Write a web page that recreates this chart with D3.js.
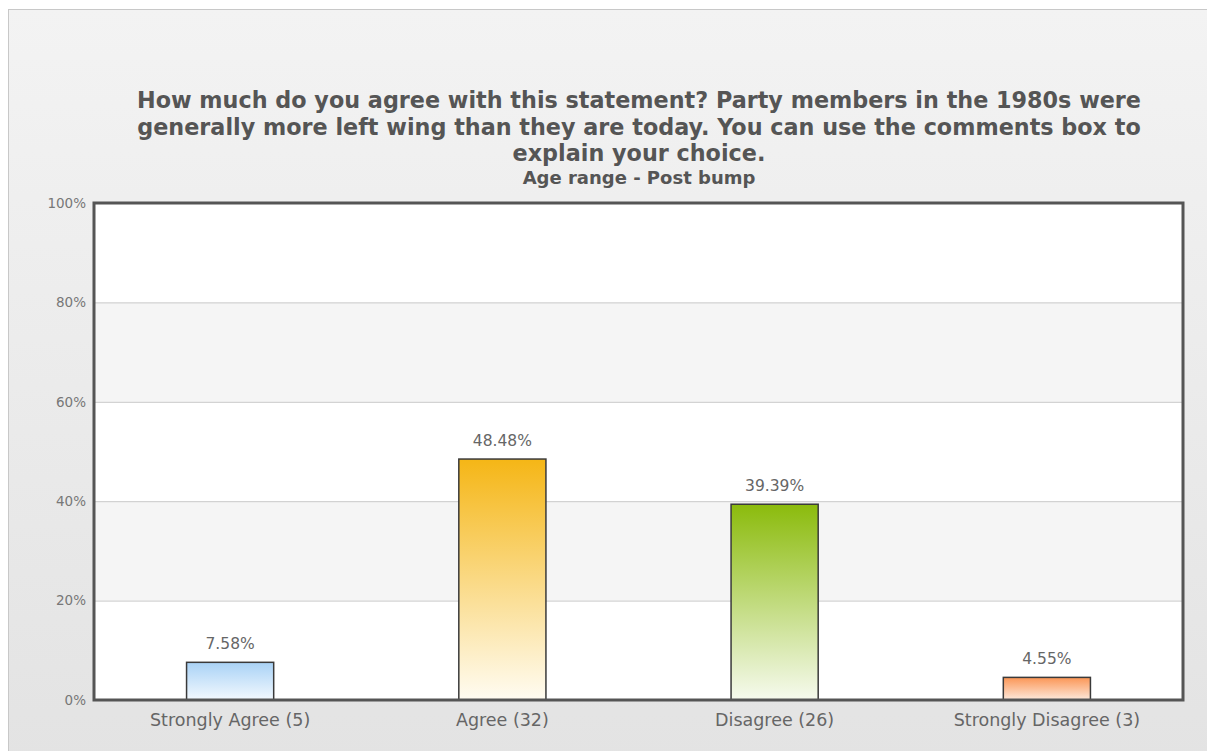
<!DOCTYPE html>
<html>
<head>
<meta charset="utf-8">
<script src="https://cdn.jsdelivr.net/npm/d3@7"></script>
<style>
  body { margin: 0; background: #fff; }
  svg { display: block; }
</style>
</head>
<body>
<svg id="chart" width="1207" height="751"></svg>
<script>
// data
var categories = ["Strongly Agree (5)", "Agree (32)", "Disagree (26)", "Strongly Disagree (3)"];
var percents = [7.58, 48.48, 39.39, 4.55];
var yTicks = [0, 20, 40, 60, 80, 100];
var titleLines = [
  "How much do you agree with this statement? Party members in the 1980s were",
  "generally more left wing than they are today. You can use the comments box to",
  "explain your choice."
];
var subtitle = "Age range - Post bump";
var barTop = ["#a9d2f6", "#f5b616", "#8bbb0c", "#fb9656"];
var barBottom = ["#f3f9fe", "#fffcf2", "#f6faee", "#fde9dc"];

var svg = d3.select("#chart");
var W = 1207, H = 751;
var plotLeft = 94, plotTop = 203, plotRight = 1183, plotBottom = 700;
var font = "'DejaVu Sans', Verdana, sans-serif";

var defs = svg.append("defs");
var bg = defs.append("linearGradient").attr("id", "bg")
    .attr("x1", 0).attr("y1", 0).attr("x2", 0).attr("y2", 1);
bg.append("stop").attr("offset", "0%").attr("stop-color", "#f3f3f3");
bg.append("stop").attr("offset", "100%").attr("stop-color", "#e3e3e3");

for (var g = 0; g < categories.length; g++) {
    var lg = defs.append("linearGradient").attr("id", "bar" + g)
        .attr("x1", 0).attr("y1", 0).attr("x2", 0).attr("y2", 1);
    lg.append("stop").attr("offset", "0%").attr("stop-color", barTop[g]);
    lg.append("stop").attr("offset", "100%").attr("stop-color", barBottom[g]);
}

// outer panel
svg.append("rect").attr("x", 0).attr("y", 0).attr("width", W).attr("height", H).attr("fill", "#fff");
svg.append("rect")
    .attr("x", 8.5).attr("y", 9.5).attr("width", W).attr("height", H)
    .attr("fill", "url(#bg)")
    .attr("stroke", "#c8c8c8")
    .attr("stroke-width", 1);

// title
var title = svg.append("text")
    .attr("text-anchor", "middle")
    .attr("fill", "#555")
    .attr("font-family", font)
    .attr("font-weight", "bold")
    .attr("font-size", "22.3px");
titleLines.forEach(function (t, i) {
    title.append("tspan")
        .attr("x", 639)
        .attr("y", 108 + i * 26.5)
        .text(t);
});
svg.append("text")
    .attr("x", 639).attr("y", 184)
    .attr("text-anchor", "middle")
    .attr("fill", "#555")
    .attr("font-family", font)
    .attr("font-weight", "bold")
    .attr("font-size", "18px")
    .text(subtitle);

var x = d3.scaleBand().domain(categories).range([plotLeft, plotRight]).padding(0);
var y = d3.scaleLinear().domain([0, 100]).range([plotBottom, plotTop]);

// plot background with alternating bands
svg.append("rect")
    .attr("x", plotLeft).attr("y", plotTop)
    .attr("width", plotRight - plotLeft).attr("height", plotBottom - plotTop)
    .attr("fill", "#fff");
for (var k = 0; k < yTicks.length - 1; k++) {
    if (k % 2 == 1) {
        svg.append("rect")
            .attr("x", plotLeft).attr("y", y(yTicks[k + 1]))
            .attr("width", plotRight - plotLeft)
            .attr("height", y(yTicks[k]) - y(yTicks[k + 1]))
            .attr("fill", "#f5f5f5");
    }
}

// gridlines + y labels
var yAxis = d3.axisLeft(y)
    .tickValues(yTicks)
    .tickSize(-(plotRight - plotLeft))
    .tickPadding(8)
    .tickFormat(function (d) { return d + "%"; });
var ya = svg.append("g")
    .attr("transform", "translate(" + plotLeft + ",0)")
    .call(yAxis);
ya.select(".domain").remove();
ya.selectAll("line").attr("stroke", "#c9c9c9").attr("stroke-width", 1);
ya.selectAll("text")
    .attr("fill", "#777")
    .attr("font-family", font)
    .attr("font-size", "13.5px");

// bars
var barW = x.bandwidth() * 0.32;
svg.selectAll(".bar")
    .data(percents)
    .enter().append("rect")
    .attr("class", "bar")
    .attr("x", function (d, i) { return x(categories[i]) + x.bandwidth() / 2 - barW / 2; })
    .attr("y", function (d) { return y(d); })
    .attr("width", barW)
    .attr("height", function (d) { return plotBottom - y(d); })
    .attr("fill", function (d, i) { return "url(#bar" + i + ")"; })
    .attr("stroke", "#3a3a3a")
    .attr("stroke-width", 1.5);

svg.selectAll(".val")
    .data(percents)
    .enter().append("text")
    .attr("class", "val")
    .attr("x", function (d, i) { return x(categories[i]) + x.bandwidth() / 2; })
    .attr("y", function (d) { return y(d) - 13; })
    .attr("text-anchor", "middle")
    .attr("fill", "#666")
    .attr("font-family", font)
    .attr("font-size", "15.5px")
    .text(function (d) { return d.toFixed(2) + "%"; });

// x labels
var xAxis = d3.axisBottom(x).tickSize(0).tickPadding(14);
var xa = svg.append("g")
    .attr("transform", "translate(0," + plotBottom + ")")
    .call(xAxis);
xa.select(".domain").remove();
xa.selectAll("text")
    .attr("fill", "#666")
    .attr("font-family", font)
    .attr("font-size", "17.5px");

// plot frame
svg.append("rect")
    .attr("x", plotLeft).attr("y", plotTop)
    .attr("width", plotRight - plotLeft).attr("height", plotBottom - plotTop)
    .attr("fill", "none")
    .attr("stroke", "#555")
    .attr("stroke-width", 3);
</script>
</body>
</html>
